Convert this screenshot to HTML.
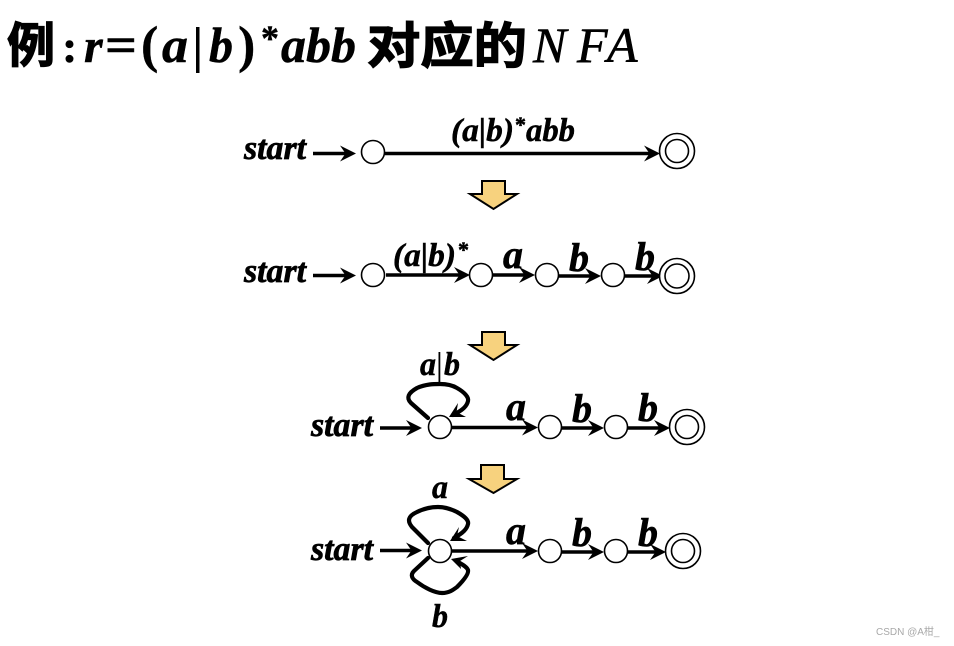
<!DOCTYPE html>
<html><head><meta charset="utf-8">
<style>
html,body{margin:0;padding:0;background:#fff;width:954px;height:646px;overflow:hidden}
svg{display:block}
text{font-family:"Liberation Serif","Noto Serif CJK SC",serif;font-weight:bold;font-style:italic;fill:#000;stroke:#000;stroke-width:.5}
.cjk{font-family:"Liberation Sans","Noto Sans CJK SC",sans-serif;font-style:normal;font-weight:bold;stroke:#000;stroke-width:1.3}
.ln{stroke:#000;stroke-width:3.4;fill:none}
.c{fill:#fff;stroke:#000;stroke-width:1.6}
.ba{fill:#f7d27e;stroke:#000;stroke-width:2}
.loop{stroke:#000;stroke-width:4.2;fill:none;stroke-linejoin:round;stroke-linecap:round}
.t{font-size:34px;stroke-width:.7}
.l{font-size:40px;stroke-width:.6}
.m{font-size:33px;stroke-width:.5}
.wm{font-family:"Liberation Sans","Noto Sans CJK SC",sans-serif;font-style:normal;font-weight:normal;fill:#a8a8a8;stroke:none;font-size:10px}
</style></head>
<body>
<svg width="954" height="646" viewBox="0 0 954 646" xmlns="http://www.w3.org/2000/svg">
<defs>
<path id="h" d="M0 0 L-16 -8 L-10.500 0 L-16 8 Z" fill="#000"/>
</defs>

<!-- title -->
<text class="cjk" x="7" y="62" font-size="48">例</text>
<text x="62" y="62" font-size="46" style="font-style:normal">:</text>
<text x="84" y="62" font-size="48">r</text>
<text x="105" y="62" font-size="50" style="font-style:normal" textLength="32" lengthAdjust="spacingAndGlyphs">=</text>
<text x="141" y="62" font-size="52" style="font-style:normal;stroke-width:.3">(</text>
<text x="162" y="62" font-size="50" textLength="26" lengthAdjust="spacingAndGlyphs">a</text>
<rect x="196" y="27" width="3.500" height="46" fill="#000"/>
<text x="209" y="62" font-size="50" textLength="24" lengthAdjust="spacingAndGlyphs">b</text>
<text x="238" y="62" font-size="52" style="font-style:normal;stroke-width:.3">)</text>
<text x="261" y="50" font-size="36" style="font-style:normal">*</text>
<text x="281" y="62" font-size="50" textLength="75" lengthAdjust="spacingAndGlyphs">abb</text>
<text class="cjk" x="367" y="63" font-size="49" textLength="160" lengthAdjust="spacingAndGlyphs">对应的</text>
<text x="533" y="62" font-size="50" style="font-weight:normal;stroke-width:.6">N</text>
<text x="577" y="62" font-size="50" style="font-weight:normal;stroke-width:.6">F</text>
<text x="607" y="62" font-size="50" style="font-weight:normal;stroke-width:.6">A</text>

<!-- row 1 -->
<text class="t" x="244" y="159" textLength="62" lengthAdjust="spacingAndGlyphs">start</text>
<path class="ln" d="M313 153.500H347"/><use href="#h" x="356" y="153.500"/>
<path class="ln" d="M385 153.500H651"/><use href="#h" x="660" y="153.500"/>
<circle class="c" cx="373" cy="152" r="11.500"/>
<circle class="c" cx="677" cy="151" r="17.500"/>
<circle class="c" cx="677" cy="151" r="11.500"/>
<text x="451" y="141" font-size="33" textLength="63" lengthAdjust="spacingAndGlyphs">(a|b)</text>
<text x="515" y="132" font-size="22" style="font-style:normal">*</text>
<text x="526" y="141" font-size="33" textLength="49" lengthAdjust="spacingAndGlyphs">abb</text>

<path class="ba" d="M482 181H505V194H517L493.500 209L470 194H482Z"/>

<!-- row 2 -->
<text class="t" x="244" y="282" textLength="62" lengthAdjust="spacingAndGlyphs">start</text>
<path class="ln" d="M313 275.500H347"/><use href="#h" x="356" y="275.500"/>
<path class="ln" d="M386 275H461"/><use href="#h" x="470" y="275"/>
<path class="ln" d="M492 275H527"/><use href="#h" x="535" y="275"/>
<path class="ln" d="M558 276H593"/><use href="#h" x="601" y="276"/>
<path class="ln" d="M624 276H654"/><use href="#h" x="663" y="276"/>
<circle class="c" cx="373" cy="275" r="11.500"/>
<circle class="c" cx="481" cy="275" r="11.500"/>
<circle class="c" cx="547" cy="275" r="11.500"/>
<circle class="c" cx="613" cy="275" r="11.500"/>
<circle class="c" cx="677" cy="276" r="17.500"/>
<circle class="c" cx="677" cy="276" r="12"/>
<text x="393" y="266" font-size="33" textLength="63" lengthAdjust="spacingAndGlyphs">(a|b)</text>
<text x="458" y="257" font-size="22" style="font-style:normal">*</text>
<text class="l" x="503" y="268" textLength="20" lengthAdjust="spacingAndGlyphs">a</text>
<text class="l" x="569" y="271" textLength="20" lengthAdjust="spacingAndGlyphs">b</text>
<text class="l" x="635" y="270" textLength="20" lengthAdjust="spacingAndGlyphs">b</text>

<path class="ba" d="M482 332H505V345H517L493.500 360L470 345H482Z"/>

<!-- row 3 -->
<text class="t" x="311" y="436" textLength="62" lengthAdjust="spacingAndGlyphs">start</text>
<path class="ln" d="M380 428H413"/><use href="#h" x="422" y="428"/>
<path class="ln" d="M452 427.500H529"/><use href="#h" x="538" y="427.500"/>
<path class="ln" d="M561 428H595"/><use href="#h" x="604" y="428"/>
<path class="ln" d="M627 428H661"/><use href="#h" x="670" y="428"/>
<path class="loop" d="M428 418 L411 403 C406 398 408 393 417 388 C426 384 434 384 440 384 C447 384 452 385 457 388 C464 392 469 397 468 401 C467 406 463 410 453 415"/>
<path d="M449 417 L458 403 L456.500 412 L466 417 Z" fill="#000"/>
<circle class="c" cx="440" cy="427" r="11.500"/>
<circle class="c" cx="550" cy="427" r="11.500"/>
<circle class="c" cx="616" cy="427" r="11.500"/>
<circle class="c" cx="687" cy="427" r="17.500"/>
<circle class="c" cx="687" cy="427" r="11.500"/>
<text class="m" x="420" y="375" textLength="16" lengthAdjust="spacingAndGlyphs">a</text>
<rect x="438.500" y="352" width="1.800" height="32" fill="#000"/>
<text class="m" x="444" y="375" textLength="16" lengthAdjust="spacingAndGlyphs">b</text>
<text class="l" x="506" y="420" textLength="20" lengthAdjust="spacingAndGlyphs">a</text>
<text class="l" x="572" y="422" textLength="20" lengthAdjust="spacingAndGlyphs">b</text>
<text class="l" x="638" y="421" textLength="20" lengthAdjust="spacingAndGlyphs">b</text>

<path class="ba" d="M481 465H504V479H517L493.500 493L469 479H481Z"/>

<!-- row 4 -->
<text class="t" x="311" y="560" textLength="62" lengthAdjust="spacingAndGlyphs">start</text>
<path class="ln" d="M380 550.500H413"/><use href="#h" x="422" y="550.500"/>
<path class="ln" d="M452 551H529"/><use href="#h" x="538" y="551"/>
<path class="ln" d="M561 552H595"/><use href="#h" x="604" y="552"/>
<path class="ln" d="M627 552H657"/><use href="#h" x="666" y="552"/>
<path class="loop" d="M428 543 L412 527 C407 521 408 516 417 512 C425 508 432 507 438 507 C445 507 451 509 457 512 C464 516 469 520 468 524 C467 529 463 533 454 538"/>
<path d="M450 541 L459 527 L457 536 L467 541 Z" fill="#000"/>
<path class="loop" d="M428 558 L414 571 C410 575 412 579 417 582 C425 588 435 593 442 593 C449 593 453 590 457 587 C463 581 469 574 468 570 C467 567 463 565 458 562"/>
<path d="M451 559 L468 556 L460 561 L461 569 Z" fill="#000"/>
<circle class="c" cx="440" cy="551" r="11.500"/>
<circle class="c" cx="550" cy="551" r="11.500"/>
<circle class="c" cx="616" cy="551" r="11.500"/>
<circle class="c" cx="683" cy="551" r="17.500"/>
<circle class="c" cx="683" cy="551" r="11.500"/>
<text class="m" x="432" y="498" textLength="16" lengthAdjust="spacingAndGlyphs">a</text>
<text class="m" x="432" y="627" textLength="16" lengthAdjust="spacingAndGlyphs">b</text>
<text class="l" x="506" y="544" textLength="20" lengthAdjust="spacingAndGlyphs">a</text>
<text class="l" x="572" y="546" textLength="20" lengthAdjust="spacingAndGlyphs">b</text>
<text class="l" x="638" y="546" textLength="20" lengthAdjust="spacingAndGlyphs">b</text>

<!-- watermark -->
<text class="wm" x="876" y="635">CSDN @A柑_</text>
</svg>
</body></html>
